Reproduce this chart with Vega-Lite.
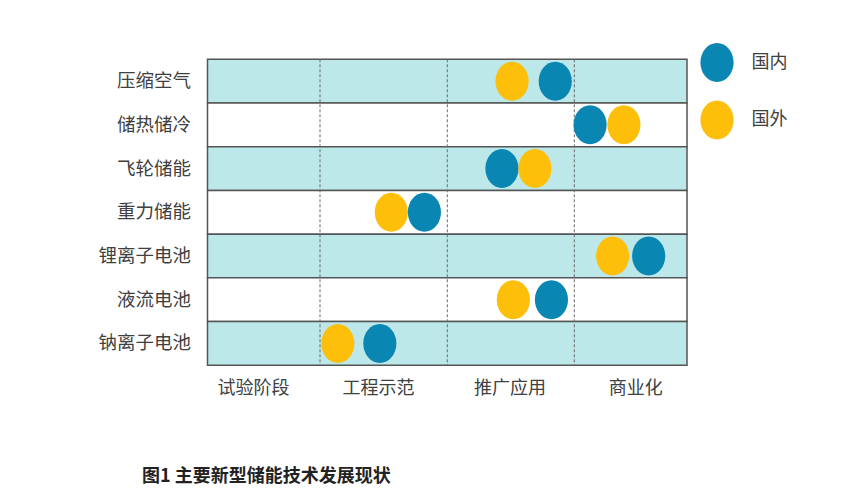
{
  "$schema": "https://vega.github.io/schema/vega-lite/v6.json",
  "width": 480,
  "height": 306,
  "autosize": {"type": "none"},
  "padding": {"left": 207.5, "top": 59.3, "right": 155.5, "bottom": 136.7},
  "background": "white",
  "config": {
    "view": {"stroke": null},
    "font": "Noto Sans CJK SC",
    "axisX": {"domain": false, "ticks": false, "grid": false, "labelFontSize": 18, "labelColor": "#404040", "labelPadding": 14, "labelOverlap": false, "labelFlush": false, "title": null},
    "axisY": {"domain": false, "ticks": false, "grid": false, "labelFontSize": 18.5, "labelColor": "#404040", "labelPadding": 17, "title": null}
  },
  "title": {"text": "图1  主要新型储能技术发展现状", "orient": "bottom", "anchor": "start", "frame": "group", "dx": -65.5, "offset": 71, "fontSize": 18, "fontWeight": "bold", "color": "#222222", "font": "Noto Sans CJK SC"},
  "datasets": {
    "techs": [
      {"tech": "压缩空气"}, {"tech": "储热储冷"}, {"tech": "飞轮储能"}, {"tech": "重力储能"},
      {"tech": "锂离子电池"}, {"tech": "液流电池"}, {"tech": "钠离子电池"}
    ],
    "bounds": [{"b": 1}, {"b": 2}, {"b": 3}],
    "points": [
      {"tech": "压缩空气", "region": "国外", "stage": 2.51},
      {"tech": "压缩空气", "region": "国内", "stage": 2.85},
      {"tech": "储热储冷", "region": "国内", "stage": 3.14},
      {"tech": "储热储冷", "region": "国外", "stage": 3.44},
      {"tech": "飞轮储能", "region": "国内", "stage": 2.43},
      {"tech": "飞轮储能", "region": "国外", "stage": 2.69},
      {"tech": "重力储能", "region": "国外", "stage": 1.56},
      {"tech": "重力储能", "region": "国内", "stage": 1.82},
      {"tech": "锂离子电池", "region": "国外", "stage": 3.34},
      {"tech": "锂离子电池", "region": "国内", "stage": 3.66},
      {"tech": "液流电池", "region": "国外", "stage": 2.52},
      {"tech": "液流电池", "region": "国内", "stage": 2.82},
      {"tech": "钠离子电池", "region": "国外", "stage": 1.14},
      {"tech": "钠离子电池", "region": "国内", "stage": 1.47}
    ]
  },
  "layer": [
    {
      "data": {"name": "techs"},
      "mark": {"type": "rect", "stroke": "#555555", "strokeWidth": 1.5},
      "encoding": {
        "x": {"datum": 0, "type": "quantitative",
          "scale": {"domain": [0, 1, 2, 3, 4], "range": [0, 112.5, 239.8, 366.8, 479.5], "nice": false, "zero": false},
          "axis": {"values": [0.404, 1.455, 2.49, 3.54], "labelExpr": "datum.value < 1 ? '试验阶段' : datum.value < 2 ? '工程示范' : datum.value < 3 ? '推广应用' : '商业化'", "title": null}},
        "x2": {"datum": 4},
        "y": {"field": "tech", "type": "nominal",
          "scale": {"domain": ["压缩空气", "储热储冷", "飞轮储能", "重力储能", "锂离子电池", "液流电池", "钠离子电池"], "paddingInner": 0, "paddingOuter": 0},
          "axis": {"title": null}},
        "fill": {"condition": {"test": "indexof(['压缩空气','飞轮储能','锂离子电池','钠离子电池'], datum.tech) >= 0", "value": "#BDE8E9"}, "value": "#FFFFFF"}
      }
    },
    {
      "data": {"name": "bounds"},
      "mark": {"type": "rule", "color": "#6a6a6a", "strokeWidth": 1, "strokeDash": [3, 2]},
      "encoding": {
        "x": {"field": "b", "type": "quantitative", "axis": {"title": null}}
      }
    },
    {
      "data": {"name": "points"},
      "mark": {"type": "point", "shape": "M0,-1A0.85,1,0,1,1,0,1A0.85,1,0,1,1,0,-1Z", "filled": true, "size": 1521, "opacity": 1},
      "encoding": {
        "x": {"field": "stage", "type": "quantitative", "axis": {"title": null}},
        "y": {"field": "tech", "type": "nominal", "axis": {"title": null}},
        "color": {"field": "region", "type": "nominal",
          "scale": {"domain": ["国内", "国外"], "range": ["#0A86B3", "#FDBF0A"]},
          "legend": {"title": null, "orient": "none", "legendX": 490, "legendY": -16.3, "padding": 0,
            "symbolType": "M0,-1A0.85,1,0,1,1,0,1A0.85,1,0,1,1,0,-1Z", "symbolSize": 1521, "symbolOpacity": 1, "symbolStrokeWidth": 0,
            "rowPadding": 18.5, "labelFontSize": 18, "labelColor": "#404040", "labelOffset": 15}}
      }
    }
  ]
}
